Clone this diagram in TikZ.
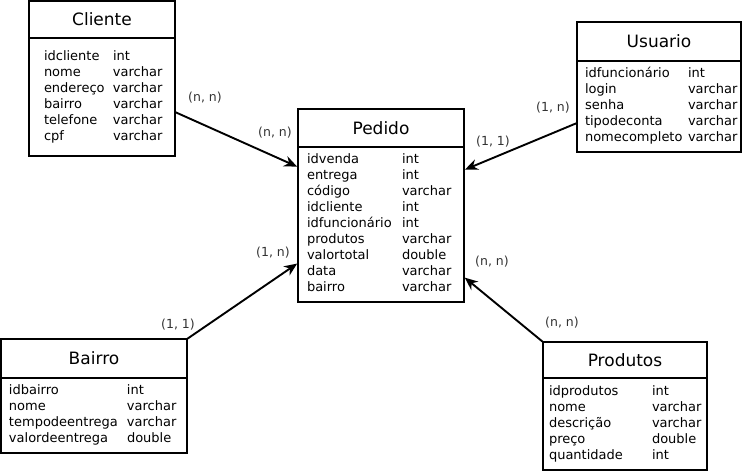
\documentclass[tikz,border=0pt]{standalone}
\usepackage{fontspec}
\setmainfont{DejaVu Sans}
\usetikzlibrary{positioning}
\usetikzlibrary{arrows.meta}

\tikzset{
  table head/.style={draw, line width=2pt, outer sep=0pt, inner sep=0pt,
    font=\fontsize{17}{20}\selectfont},
  table body/.style={draw, line width=2pt, outer sep=0pt, inner ysep=0pt,
    anchor=north, font=\fontsize{13}{16}\selectfont},
  card/.style={font=\fontsize{12.5}{15}\selectfont, text=black!80},
  rel/.style={-{Stealth[length=13pt,width=11pt]}, line width=1.9pt, shorten >=1pt},
}

\begin{document}
\begin{tikzpicture}[x=1pt, y=-1pt]
\useasboundingbox (0,0) rectangle (746,475);

% Cliente
\node[table head, minimum width=146pt, minimum height=37pt] (cliente) at (102,19.5) {Cliente};
\node[table body, minimum height=118pt, inner xsep=15pt, text width=116pt] (cliente fields)
  at (cliente.south) {\noindent\begin{tabular}{@{}p{69pt}@{}l@{}}
  idcliente & int\\
  nome & varchar\\
  endereço & varchar\\
  bairro & varchar\\
  telefone & varchar\\
  cpf & varchar
  \end{tabular}};

% Usuario
\node[table head, minimum width=164pt, minimum height=39pt] (usuario) at (659,41.5) {Usuario};
\node[table body, minimum height=91pt, inner xsep=8pt, text width=148pt] (usuario fields)
  at (usuario.south) {\noindent\begin{tabular}{@{}p{103pt}@{}l@{}}
  idfuncionário & int\\
  login & varchar\\
  senha & varchar\\
  tipodeconta & varchar\\
  nomecompleto & varchar
  \end{tabular}};

% Pedido
\node[table head, minimum width=166pt, minimum height=38pt] (pedido) at (381,128) {Pedido};
\node[table body, minimum height=155pt, inner xsep=9pt, text width=148pt] (pedido fields)
  at (pedido.south) {\noindent\begin{tabular}{@{}p{95pt}@{}l@{}}
  idvenda & int\\
  entrega & int\\
  código & varchar\\
  idcliente & int\\
  idfuncionário & int\\
  produtos & varchar\\
  valortotal & double\\
  data & varchar\\
  bairro & varchar
  \end{tabular}};

% Bairro
\node[table head, minimum width=186pt, minimum height=39pt] (bairro) at (94,358.5) {Bairro};
\node[table body, minimum height=75pt, inner xsep=8pt, text width=170pt] (bairro fields)
  at (bairro.south) {\noindent\begin{tabular}{@{}p{118pt}@{}l@{}}
  idbairro & int\\
  nome & varchar\\
  tempodeentrega & varchar\\
  valordeentrega & double
  \end{tabular}};

% Produtos
\node[table head, minimum width=164pt, minimum height=36pt] (produtos) at (625,360) {Produtos};
\node[table body, minimum height=92pt, inner xsep=6pt, text width=152pt] (produtos fields)
  at (produtos.south) {\noindent\begin{tabular}{@{}p{103pt}@{}l@{}}
  idprodutos & int\\
  nome & varchar\\
  descrição & varchar\\
  preço & double\\
  quantidade & int
  \end{tabular}};

% Relationships
\draw[rel] ([yshift=-15pt]cliente fields.east) -- ([yshift=57.5pt]pedido fields.west);
\draw[rel] ([yshift=-16.5pt]usuario fields.west) -- ([yshift=54.5pt]pedido fields.east);
\draw[rel] (bairro.north east) -- ([yshift=-38.5pt]pedido fields.west);
\draw[rel] (produtos.north west) -- ([yshift=-52.5pt]pedido fields.east);

% Cardinalities
\node[card] (cliente card) at (205,98) {(n, n)};
\node[card] (pedido card a) at (275,133) {(n, n)};
\node[card] (usuario card) at (553,108) {(1, n)};
\node[card] (pedido card b) at (493,142) {(1, 1)};
\node[card] (bairro card) at (178,325) {(1, 1)};
\node[card] (pedido card c) at (273,253) {(1, n)};
\node[card] (pedido card d) at (492,262) {(n, n)};
\node[card] (produtos card) at (562,323) {(n, n)};

\end{tikzpicture}
\end{document}
